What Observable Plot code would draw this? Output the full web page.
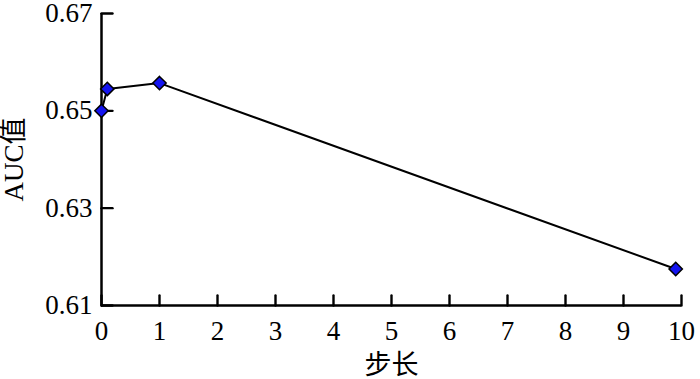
<!DOCTYPE html>
<html>
<head>
<meta charset="utf-8">
<script src="https://cdn.jsdelivr.net/npm/d3@7"></script>
<script src="https://cdn.jsdelivr.net/npm/@observablehq/plot@0.6"></script>
<style>
  html, body { margin: 0; padding: 0; background: #fff; }
  svg { font-family: "Liberation Serif", "Noto Sans CJK SC", serif; overflow: visible; }
</style>
</head>
<body>
<div id="chart"></div>
<script>
const stepSizes = [0, 0.1, 1, 9.9];
const aucValues = [0.650, 0.6545, 0.6557, 0.6175];
const xTicks = [0, 1, 2, 3, 4, 5, 6, 7, 8, 9, 10];
const yTicks = [0.61, 0.63, 0.65, 0.67];
const xLabel = "步长";
const yLabel = "AUC值";

const data = stepSizes.map((s, i) => ({step: s, auc: aucValues[i]}));

// straight tick line shape for Plot.vector
const tickShape = {draw(context, l) { context.moveTo(0, 0); context.lineTo(0, -l); }};

const chart = Plot.plot({
  width: 700,
  height: 379,
  marginLeft: 101,
  marginRight: 19,
  marginTop: 13,
  marginBottom: 74,
  style: {fontSize: "27px", fontFamily: "'Liberation Serif', 'Noto Sans CJK SC', serif", color: "#000", background: "#fff", overflow: "visible"},
  x: {domain: [0, 10]},
  y: {domain: [0.61, 0.67]},
  marks: [
    Plot.axisX({ticks: xTicks, tickSize: 0, tickPadding: 15, tickFormat: d => String(d),
      label: xLabel, labelAnchor: "center", labelOffset: 68, labelArrow: "none"}),
    Plot.axisY({ticks: yTicks, tickSize: 0, tickPadding: 9, tickFormat: d3.format(".2f"),
      label: yLabel, labelAnchor: "center", labelOffset: 98, labelArrow: "none"}),
    // inward tick marks
    Plot.vector(xTicks, {x: d => d, y: () => yTicks[0], length: 10, rotate: 0, anchor: "start", shape: tickShape, stroke: "#000", strokeWidth: 2.4}),
    Plot.vector(yTicks, {x: () => xTicks[0], y: d => d, length: 11, rotate: 90, anchor: "start", shape: tickShape, stroke: "#000", strokeWidth: 2.4}),
    Plot.ruleX([0], {stroke: "#000", strokeWidth: 2.5}),
    Plot.ruleY([0.61], {stroke: "#000", strokeWidth: 2.5}),
    Plot.line(data, {x: "step", y: "auc", stroke: "#000", strokeWidth: 2}),
    Plot.dot(data, {x: "step", y: "auc", symbol: "diamond2", r: 6, fill: "#1414f0", stroke: "#000", strokeWidth: 1.5})
  ]
});
document.getElementById("chart").appendChild(chart);
</script>
</body>
</html>
